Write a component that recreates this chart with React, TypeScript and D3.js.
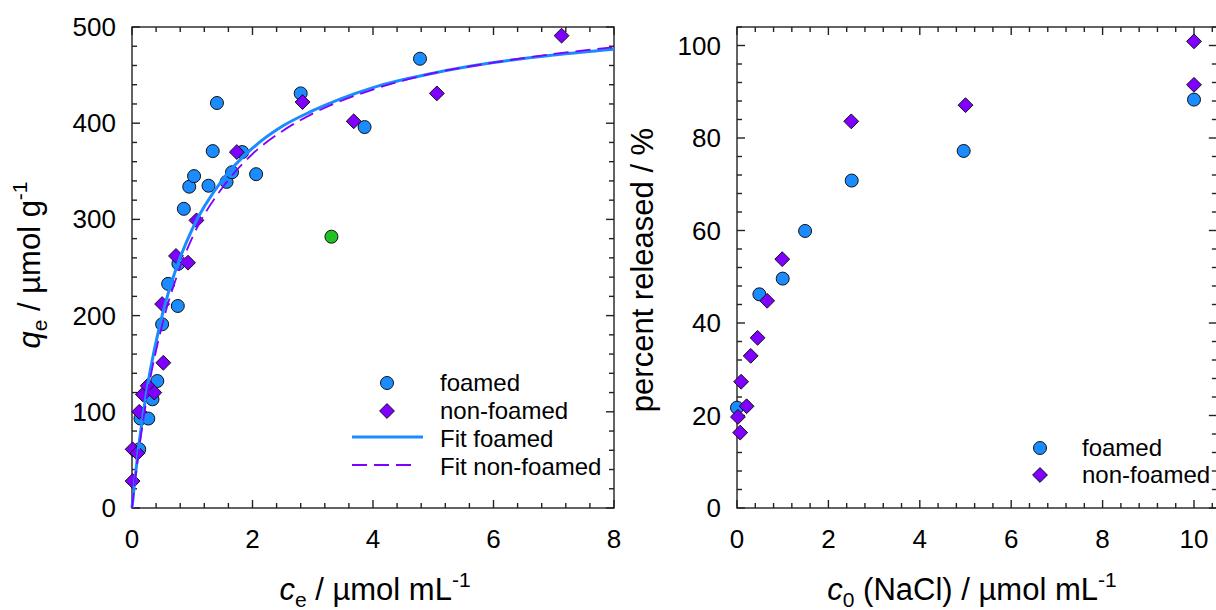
import * as d3 from "d3";
import React, { useRef, useEffect } from "react";

// left panel: adsorption isotherm (c_e in µmol/mL, q_e in µmol/g)
const foamedC = [0.12, 0.14, 0.27, 0.34, 0.42, 0.50, 0.60, 0.76, 0.77, 0.86, 0.95, 1.03, 1.27, 1.34, 1.41, 1.57, 1.66, 1.83, 2.06, 2.80, 3.86, 4.78];
const foamedQ = [61, 93, 93, 113, 132, 191, 233, 210, 254, 311, 334, 345, 335, 371, 421, 339, 349, 370, 347, 431, 396, 467];
const outlierC = [3.31];
const outlierQ = [282];
const nonFoamedC = [0.01, 0.01, 0.09, 0.12, 0.18, 0.26, 0.37, 0.50, 0.52, 0.73, 0.93, 1.07, 1.74, 2.83, 3.68, 5.06, 7.13];
const nonFoamedQ = [28, 61, 57, 100, 118, 127, 120, 212, 151, 262, 255, 299, 370, 422, 402, 431, 491];
// fitted curves
const fitC = [0, 0.05, 0.1, 0.25, 0.5, 0.75, 1, 1.5, 2, 2.5, 3, 4, 5, 6, 7, 8];
const fitFoamedQ = [0, 30, 58, 124, 200, 252, 290, 341, 374, 397, 413, 437, 452, 463, 471, 477];
const fitNonFoamedQ = [0, 28, 53, 116, 190, 242, 281, 333, 368, 392, 410, 435, 452, 463, 472, 479];

// right panel: release vs NaCl concentration
const relFoamedC = [0, 0.49, 1.0, 1.49, 2.51, 4.96, 10];
const relFoamedP = [21.7, 46.2, 49.6, 59.9, 70.8, 77.2, 88.3];
const relNonFoamedC = [0.02, 0.07, 0.09, 0.21, 0.30, 0.45, 0.66, 0.99, 2.5, 5.0, 10, 10];
const relNonFoamedP = [19.7, 16.3, 27.3, 22.0, 32.9, 36.8, 44.8, 53.8, 83.6, 87.1, 91.5, 100.9];

const leftXTicks = [0, 2, 4, 6, 8];
const leftYTicks = [0, 100, 200, 300, 400, 500];
const rightXTicks = [0, 2, 4, 6, 8, 10];
const rightYTicks = [0, 20, 40, 60, 80, 100];

const BLUE = "#1a8cff";
const PURPLE = "#7f00ff";
const GREEN = "#22c022";
const FONT = "'Liberation Sans', Arial, sans-serif";

const diamond = {
    draw(ctx, size) {
        const h = Math.sqrt(size / 2);
        ctx.moveTo(0, -h);
        ctx.lineTo(h, 0);
        ctx.lineTo(0, h);
        ctx.lineTo(-h, 0);
        ctx.closePath();
    }
};

function App() {
    const svgRef = useRef();
    const width = 1216;
    const height = 610;

    useEffect(() => {
        const svg = d3.select(svgRef.current);
        svg.selectAll("*").remove();

        const lx = d3.scaleLinear().domain([0, 8]).range([132, 614]);
        const ly = d3.scaleLinear().domain([0, 500]).range([508, 27]);
        const rx = d3.scaleLinear().domain([0, 10.5]).range([737, 737 + 10.5 * 45.7]);
        const ry = d3.scaleLinear().domain([0, 104]).range([508, 27]);

        const diamondPath = d3.symbol().type(diamond).size(110)();

        // frame + inward ticks on all four sides
        function frame(x, y, xMajor, xMinorStep, yMajor, yMinorStep) {
            const g = svg.append("g");
            const [x0, x1] = x.range();
            const [y0, y1] = y.range();
            const xmax = x.domain()[1], ymax = y.domain()[1];
            const xMinor = d3.range(0, xmax + 1e-9, xMinorStep).filter(v => !xMajor.some(m => Math.abs(m - v) < 1e-6));
            const yMinor = d3.range(0, ymax + 1e-9, yMinorStep).filter(v => !yMajor.some(m => Math.abs(m - v) < 1e-6));
            const tick = (vals, len, horiz) => {
                vals.forEach(v => {
                    if (horiz) {
                        g.append("line").attr("x1", x(v)).attr("x2", x(v)).attr("y1", y0).attr("y2", y0 - len);
                        g.append("line").attr("x1", x(v)).attr("x2", x(v)).attr("y1", y1).attr("y2", y1 + len);
                    } else {
                        g.append("line").attr("y1", y(v)).attr("y2", y(v)).attr("x1", x0).attr("x2", x0 + len);
                        g.append("line").attr("y1", y(v)).attr("y2", y(v)).attr("x1", x1).attr("x2", x1 - len);
                    }
                });
            };
            tick(xMajor, 8, true);
            tick(xMinor, 5, true);
            tick(yMajor, 8, false);
            tick(yMinor, 5, false);
            g.append("rect")
                .attr("x", x0).attr("y", y1)
                .attr("width", x1 - x0).attr("height", y0 - y1)
                .attr("fill", "none");
            g.selectAll("line, rect").attr("stroke", "#222").attr("stroke-width", 1.4);

            g.selectAll(".xl").data(xMajor).enter().append("text")
                .attr("x", d => x(d)).attr("y", 548)
                .attr("text-anchor", "middle")
                .style("font-family", FONT).style("font-size", "26px")
                .text(d => d);
            g.selectAll(".yl").data(yMajor).enter().append("text")
                .attr("x", x0 - 16).attr("y", d => y(d) + 9)
                .attr("text-anchor", "end")
                .style("font-family", FONT).style("font-size", "26px")
                .text(d => d);
        }

        frame(lx, ly, leftXTicks, 0.4, leftYTicks, 20);
        frame(rx, ry, rightXTicks, 0.4, rightYTicks, 4);

        function circles(xs, ys, x, y, color) {
            svg.append("g").selectAll("circle").data(xs).enter().append("circle")
                .attr("cx", d => x(d)).attr("cy", (d, i) => y(ys[i]))
                .attr("r", 6.5)
                .attr("fill", color).attr("stroke", "#111").attr("stroke-width", 1);
        }
        function diamonds(xs, ys, x, y, color) {
            svg.append("g").selectAll("path").data(xs).enter().append("path")
                .attr("d", diamondPath)
                .attr("transform", (d, i) => `translate(${x(d)},${y(ys[i])})`)
                .attr("fill", color).attr("stroke", "#111").attr("stroke-width", 1);
        }

        // left panel marks
        circles(foamedC, foamedQ, lx, ly, BLUE);
        circles(outlierC, outlierQ, lx, ly, GREEN);
        diamonds(nonFoamedC, nonFoamedQ, lx, ly, PURPLE);

        const line = d3.line().curve(d3.curveMonotoneX);
        svg.append("path")
            .attr("d", line(fitC.map((c, i) => [lx(c), ly(fitFoamedQ[i])])))
            .attr("fill", "none").attr("stroke", BLUE).attr("stroke-width", 3);
        svg.append("path")
            .attr("d", line(fitC.map((c, i) => [lx(c), ly(fitNonFoamedQ[i])])))
            .attr("fill", "none").attr("stroke", PURPLE).attr("stroke-width", 1.8)
            .attr("stroke-dasharray", "15,7");

        // right panel marks
        circles(relFoamedC, relFoamedP, rx, ry, BLUE);
        diamonds(relNonFoamedC, relNonFoamedP, rx, ry, PURPLE);

        // legends
        const lg = svg.append("g").style("font-family", FONT).style("font-size", "24px");
        lg.append("circle").attr("cx", 387).attr("cy", 383).attr("r", 6.5)
            .attr("fill", BLUE).attr("stroke", "#111");
        lg.append("path").attr("d", diamondPath).attr("transform", "translate(387,411)")
            .attr("fill", PURPLE).attr("stroke", "#111");
        lg.append("line").attr("x1", 352).attr("x2", 423).attr("y1", 437).attr("y2", 437)
            .attr("stroke", BLUE).attr("stroke-width", 3);
        lg.append("line").attr("x1", 352).attr("x2", 416).attr("y1", 465).attr("y2", 465)
            .attr("stroke", PURPLE).attr("stroke-width", 1.8).attr("stroke-dasharray", "15,7");
        ["foamed", "non-foamed", "Fit foamed", "Fit non-foamed"].forEach((t, i) => {
            lg.append("text").attr("x", 440).attr("y", 391 + i * 28).text(t);
        });

        const rg = svg.append("g").style("font-family", FONT).style("font-size", "24px");
        rg.append("circle").attr("cx", 1040).attr("cy", 448).attr("r", 6.5)
            .attr("fill", BLUE).attr("stroke", "#111");
        rg.append("path").attr("d", diamondPath).attr("transform", "translate(1040,475)")
            .attr("fill", PURPLE).attr("stroke", "#111");
        ["foamed", "non-foamed"].forEach((t, i) => {
            rg.append("text").attr("x", 1082).attr("y", 456 + i * 27).text(t);
        });

        // axis titles
        const title = (g, parts) => {
            const t = g.append("text").attr("text-anchor", "middle")
                .style("font-family", FONT).style("font-size", "31px");
            parts.forEach(p => {
                const s = t.append("tspan").text(p.t);
                if (p.i) s.style("font-style", "italic");
                if (p.dy) s.attr("dy", p.dy);
                if (p.s) s.style("font-size", "21px");
            });
            return t;
        };
        title(svg.append("g").attr("transform", "translate(375,600)"), [
            { t: "c", i: true }, { t: "e", s: true, dy: 7 }, { t: " / µmol mL", dy: -7 }, { t: "-1", s: true, dy: -13 }
        ]);
        title(svg.append("g").attr("transform", "translate(972,600)"), [
            { t: "c", i: true }, { t: "0", s: true, dy: 7 }, { t: " (NaCl) / µmol mL", dy: -7 }, { t: "-1", s: true, dy: -13 }
        ]);
        title(svg.append("g").attr("transform", "translate(40,265) rotate(-90)"), [
            { t: "q", i: true }, { t: "e", s: true, dy: 7 }, { t: " / µmol g", dy: -7 }, { t: "-1", s: true, dy: -13 }
        ]);
        title(svg.append("g").attr("transform", "translate(653,270) rotate(-90)"), [
            { t: "percent released / %" }
        ]);
    }, []);

    return (
        <div style={{ position: "absolute", left: 0, top: 0 }}>
            <svg ref={svgRef} width={width} height={height} style={{ display: "block", background: "#fff" }}></svg>
        </div>
    );
}

export default App;
